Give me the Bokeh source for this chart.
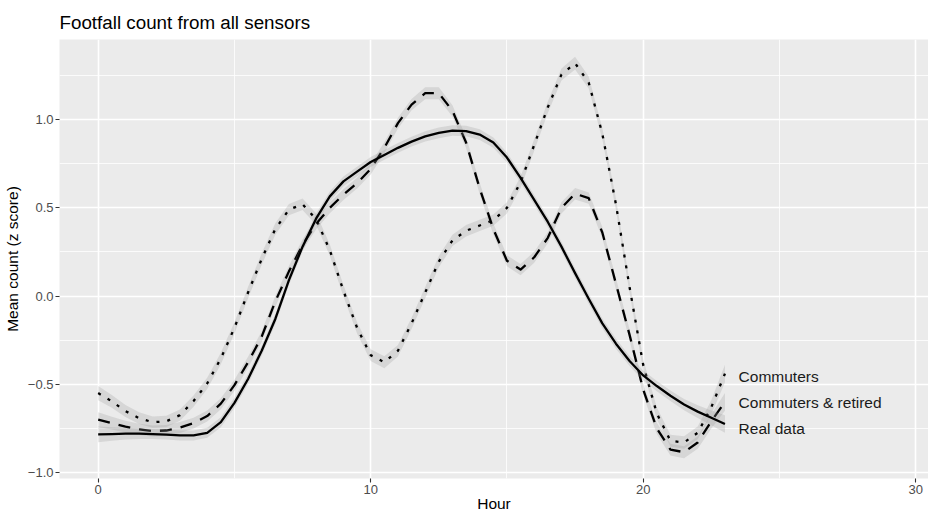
from bokeh.plotting import figure
from bokeh.models import Range1d, FixedTicker, CustomJSTickFormatter
from bokeh.embed import file_html
from bokeh.resources import INLINE
from bokeh.core.properties import value

# ---- data ----
hours = [0.0, 0.5, 1.0, 1.5, 2.0, 2.5, 3.0, 3.5, 4.0, 4.5, 5.0, 5.5, 6.0, 6.5, 7.0, 7.5,
         8.0, 8.5, 9.0, 9.5, 10.0, 10.5, 11.0, 11.5, 12.0, 12.5, 13.0, 13.5, 14.0, 14.5,
         15.0, 15.5, 16.0, 16.5, 17.0, 17.5, 18.0, 18.5, 19.0, 19.5, 20.0, 20.5, 21.0,
         21.5, 22.0, 22.5, 23.0]

commuters = [-0.55, -0.597, -0.652, -0.692, -0.715, -0.71, -0.675, -0.595, -0.495, -0.354,
             -0.18, 0.02, 0.21, 0.38, 0.49, 0.52, 0.435, 0.26, 0.03, -0.18, -0.335, -0.375,
             -0.31, -0.155, 0.02, 0.195, 0.315, 0.37, 0.40, 0.43, 0.50, 0.645, 0.856, 1.07,
             1.255, 1.32, 1.21, 0.92, 0.52, 0.05, -0.39, -0.665, -0.82, -0.83, -0.775,
             -0.63, -0.44]
commuters_se = [0.04, 0.036, 0.034, 0.033, 0.032, 0.032, 0.032, 0.032, 0.032, 0.032, 0.032,
                0.032, 0.032, 0.032, 0.032, 0.033, 0.033, 0.032, 0.032, 0.032, 0.033, 0.034,
                0.033, 0.032, 0.032, 0.032, 0.032, 0.032, 0.032, 0.032, 0.032, 0.032, 0.032,
                0.032, 0.034, 0.036, 0.034, 0.032, 0.032, 0.032, 0.032, 0.033, 0.034, 0.035,
                0.036, 0.04, 0.05]

retired = [-0.70, -0.72, -0.74, -0.755, -0.765, -0.762, -0.745, -0.72, -0.68, -0.61, -0.505,
           -0.375, -0.23, -0.03, 0.14, 0.29, 0.41, 0.50, 0.575, 0.64, 0.72, 0.84, 0.98, 1.085,
           1.15, 1.15, 1.05, 0.87, 0.61, 0.38, 0.20, 0.15, 0.22, 0.33, 0.50, 0.58, 0.555,
           0.36, 0.07, -0.22, -0.53, -0.75, -0.87, -0.885, -0.83, -0.71, -0.60]
retired_se = [0.042, 0.036, 0.033, 0.032, 0.031, 0.031, 0.031, 0.031, 0.031, 0.031, 0.031,
              0.031, 0.031, 0.031, 0.031, 0.031, 0.031, 0.031, 0.031, 0.031, 0.031, 0.031,
              0.031, 0.032, 0.034, 0.034, 0.032, 0.031, 0.031, 0.031, 0.031, 0.032, 0.031,
              0.031, 0.032, 0.033, 0.032, 0.031, 0.031, 0.031, 0.031, 0.032, 0.033, 0.034,
              0.035, 0.04, 0.05]

real = [-0.784, -0.782, -0.78, -0.78, -0.782, -0.785, -0.79, -0.79, -0.775, -0.715, -0.605,
        -0.47, -0.31, -0.13, 0.09, 0.28, 0.44, 0.565, 0.65, 0.705, 0.76, 0.80, 0.84, 0.875,
        0.905, 0.925, 0.938, 0.935, 0.915, 0.87, 0.785, 0.67, 0.545, 0.42, 0.28, 0.13,
        -0.015, -0.155, -0.27, -0.368, -0.45, -0.51, -0.565, -0.615, -0.655, -0.69, -0.725]
real_se = [0.045, 0.038, 0.033, 0.03, 0.028, 0.028, 0.028, 0.028, 0.028, 0.028, 0.028,
           0.028, 0.028, 0.028, 0.028, 0.028, 0.028, 0.028, 0.028, 0.028, 0.028, 0.028,
           0.028, 0.028, 0.029, 0.03, 0.03, 0.03, 0.03, 0.029, 0.028, 0.028, 0.028, 0.028,
           0.028, 0.028, 0.028, 0.028, 0.028, 0.028, 0.028, 0.029, 0.03, 0.032, 0.036,
           0.042, 0.05]

label_names = ["Commuters", "Commuters & retired", "Real data"]
label_x = [23.5, 23.5, 23.5]
label_y = [-0.455, -0.602, -0.75]

x_ticks = [0, 10, 20, 30]
x_minor = [5, 15, 25]
y_ticks = [-1.0, -0.5, 0.0, 0.5, 1.0]
y_minor = [-0.75, -0.25, 0.25, 0.75, 1.25]

FONT = "Liberation Sans"

p = figure(width=928, height=515, output_backend="svg", toolbar_location=None,
           x_range=Range1d(-1.42, 30.47), y_range=Range1d(-1.034, 1.454),
           min_border_left=59, min_border_right=0, min_border_top=39, min_border_bottom=37,
           background_fill_color="#EBEBEB", border_fill_color="white",
           outline_line_color=None)

p.title.text = "Footfall count from all sensors"
p.title.text_font = FONT
p.title.text_font_size = "18.8px"
p.title.text_font_style = "normal"
p.title.text_color = "black"
p.title.align = "left"
p.title.offset = 0
p.title.standoff = 13

# grids
p.xgrid.ticker = FixedTicker(ticks=x_ticks, minor_ticks=x_minor)
p.ygrid.ticker = FixedTicker(ticks=y_ticks, minor_ticks=y_minor)
for g in (p.xgrid, p.ygrid):
    g.grid_line_color = "white"
    g.grid_line_width = 1.6
    g.minor_grid_line_color = "white"
    g.minor_grid_line_width = 0.8

p.xaxis.ticker = FixedTicker(ticks=x_ticks, minor_ticks=x_minor)
p.yaxis.ticker = FixedTicker(ticks=y_ticks, minor_ticks=y_minor)
p.yaxis.formatter = CustomJSTickFormatter(
    code="return (tick < 0 ? '\u2212' : '') + Math.abs(tick).toFixed(1);")

for ax in (p.xaxis, p.yaxis):
    ax.axis_line_color = None
    ax.major_tick_out = 4
    ax.major_tick_in = 0
    ax.minor_tick_out = 0
    ax.minor_tick_in = 0
    ax.major_tick_line_color = "#333333"
    ax.major_tick_line_width = 1.1
    ax.major_label_text_font = FONT
    ax.major_label_text_font_size = "13px"
    ax.major_label_text_color = "#4D4D4D"
    ax.axis_label_text_font = FONT
    ax.axis_label_text_font_size = "15.5px"
    ax.axis_label_text_font_style = "normal"
    ax.axis_label_text_color = "black"

p.xaxis.axis_label = "Hour"
p.yaxis.axis_label = "Mean count (z score)"
p.xaxis.major_label_standoff = 2
p.yaxis.major_label_standoff = 2
p.xaxis.axis_label_standoff = -2
p.yaxis.axis_label_standoff = 4

series = [
    (commuters, commuters_se, "3 8"),
    (retired, retired_se, "12 9"),
    (real, real_se, "solid"),
]
for ys, se, dash in series:
    lo = [v - s for v, s in zip(ys, se)]
    hi = [v + s for v, s in zip(ys, se)]
    p.varea(x=hours, y1=lo, y2=hi, fill_color="#999999", fill_alpha=0.25)
    p.line(x=hours, y=ys, line_color="black", line_width=2.3, line_dash=dash,
           line_cap="butt", line_join="round")

p.text(x=label_x, y=label_y, text=label_names, text_font=value(FONT),
       text_font_size="15.5px", text_color="#1A1A1A", text_align="left",
       text_baseline="middle")

open("out.html", "w").write(file_html(p, INLINE))
